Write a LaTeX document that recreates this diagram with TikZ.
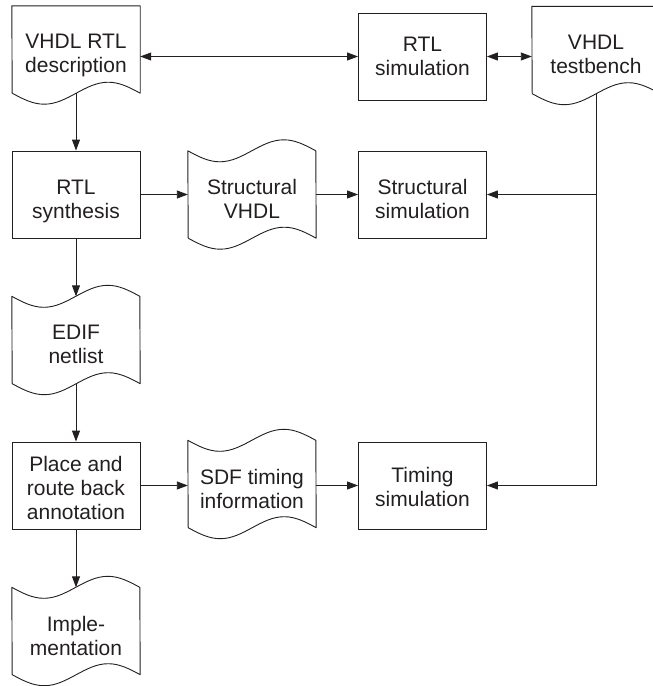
\documentclass[tikz,border=0pt]{standalone}
\usepackage{fontspec}
\setmainfont{Liberation Sans}
\usetikzlibrary{arrows.meta}
\definecolor{ink}{HTML}{231F20}

% amplitude of the wavy edges
\newcommand\wa{11}

% document: flat top, wavy bottom
\newcommand\docoutline[1]{%
  \draw[outline] (#1.north west) -- (#1.north east) -- (#1.south east)
    sin ++(-32,\wa) cos ++(-32,-\wa) sin ++(-32,-\wa) cos ++(-32,\wa) -- cycle;}
% tape: wavy top and wavy bottom
\newcommand\tapeoutline[1]{%
  \draw[outline] (#1.north west)
    sin ++(32,-\wa) cos ++(32,\wa) sin ++(32,\wa) cos ++(32,-\wa)
    -- (#1.south east)
    sin ++(-32,\wa) cos ++(-32,-\wa) sin ++(-32,-\wa) cos ++(-32,\wa) -- cycle;}

\begin{document}
\begin{tikzpicture}[x=1pt,y=1pt,
  outline/.style={draw=ink,line width=0.9pt,line join=round},
  block/.style={rectangle,minimum width=128pt,minimum height=87pt,inner sep=0pt},
  boxed/.style={block,draw=ink,line width=0.9pt},
  txt/.style={align=center,text=ink,inner sep=0pt,
    font=\fontsize{21}{24}\selectfont},
  conn/.style={draw=ink,line width=0.9pt,-{Triangle[length=11pt,width=8pt]}},
  dconn/.style={draw=ink,line width=0.9pt,
    {Triangle[length=11pt,width=8pt]}-{Triangle[length=11pt,width=8pt]}}]

\useasboundingbox (0,0) rectangle (653,-686);
\clip (0,0) rectangle (653,-686);

% documents and tapes
\node[block] (desc)   at (76,-49.5)  {};
\node[block] (tb)     at (596,-50)   {};
\node[block] (svhdl)  at (252,-194.5){};
\node[block] (edif)   at (76,-340)   {};
\node[block] (sdf)    at (252,-484)  {};
\node[block] (impl)   at (76,-631)   {};

% process boxes
\node[boxed] (rtlsim) at (422.5,-56.5) {};
\node[boxed] (synth)  at (76,-194.5)   {};
\node[boxed] (ssim)   at (422.5,-194.5){};
\node[boxed] (pr)     at (76,-485.5)   {};
\node[boxed] (tsim)   at (422.5,-485.5){};

\docoutline{desc}
\docoutline{tb}
\tapeoutline{svhdl}
\tapeoutline{edif}
\tapeoutline{sdf}
\tapeoutline{impl}

% labels
\node[txt] (desc-t)   at ([yshift=-6pt]desc.center)   {VHDL RTL\\description};
\node[txt] (tb-t)     at ([yshift=-4.5pt]tb.center)   {VHDL\\testbench};
\node[txt] (svhdl-t)  at ([yshift=-4pt]svhdl.center)  {Structural\\VHDL};
\node[txt] (edif-t)   at ([yshift=-4.5pt]edif.center) {EDIF\\netlist};
\node[txt] (sdf-t)    at ([yshift=-4.5pt]sdf.center)  {SDF timing\\information};
\node[txt] (impl-t)   at ([yshift=-5pt]impl.center)   {Imple-\\mentation};
\node[txt] (rtlsim-t) at ([yshift=0pt]rtlsim.center)  {RTL\\simulation};
\node[txt] (synth-t)  at ([yshift=-7pt]synth.center)  {RTL\\synthesis};
\node[txt] (ssim-t)   at ([yshift=-4pt]ssim.center)   {Structural\\simulation};
\node[txt] (pr-t)     at ([yshift=-2pt]pr.center)     {Place and\\route back\\annotation};
\node[txt] (tsim-t)   at ([yshift=-1.5pt]tsim.center) {Timing\\simulation};

% connectors
\draw[dconn] (rtlsim.west) -- (rtlsim.west -| desc.east);
\draw[dconn] (rtlsim.east) -- (rtlsim.east -| tb.west);
\draw[conn] (desc.south) -- (synth.north);
\draw[conn] (synth.south) -- (edif.north);
\draw[conn] (edif.south) -- (pr.north);
\draw[conn] (pr.south) -- (impl.north);
\draw[conn] (synth.east) -- (svhdl.west);
\draw[conn] (svhdl.west -| svhdl.east) -- (ssim.west);
\draw[conn] (pr.east) -- (sdf.west |- pr.east);
\draw[conn] (sdf.east |- tsim.west) -- (tsim.west);
\draw[conn] (tb.south) |- (tsim.east);
\draw[conn] (tb.south |- ssim.east) -- (ssim.east);
\end{tikzpicture}
\end{document}
